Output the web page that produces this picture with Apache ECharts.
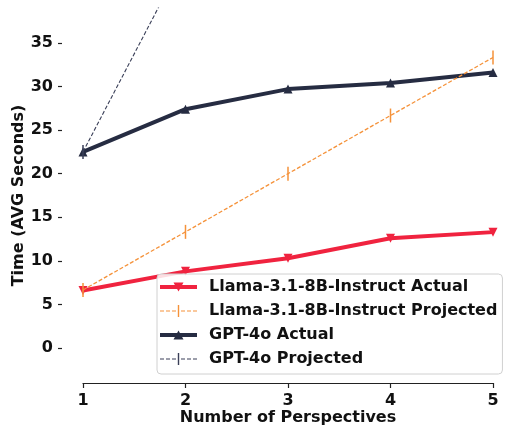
<!DOCTYPE html>
<html>
<head>
<meta charset="utf-8">
<script src="https://cdn.jsdelivr.net/npm/echarts@6/dist/echarts.min.js"></script>
<style>
  html, body { margin: 0; padding: 0; background: #fff; }
  #chart { width: 506px; height: 428px; }
</style>
</head>
<body>
<div id="chart"></div>
<script>
const perspectives = [1, 2, 3, 4, 5]
const llamaActual = [6.6, 8.8, 10.3, 12.6, 13.3]
const llamaProjected = [6.67, 13.33, 20.0, 26.67, 33.33]
const gptActual = [22.5, 27.4, 29.7, 30.4, 31.6]
const gptProjected = [22.5, 45.0, 67.5, 90.0, 112.5]
const yTicks = [0, 5, 10, 15, 20, 25, 30, 35]
const names = [
  'Llama-3.1-8B-Instruct Actual',
  'Llama-3.1-8B-Instruct Projected',
  'GPT-4o Actual',
  'GPT-4o Projected',
]

const pairs = (ys) => perspectives.map((x, i) => [x, ys[i]])
const font = 'DejaVu Sans'

// legend glyphs, 44x16 box (tiny corner dots keep the box size fixed)
const corners = ' M43.9,0 L44,0 L44,0.1 Z M43.9,15.9 L44,15.9 L44,16 Z M0,0 L0.1,0 L0.1,0.1 Z'
const thickLine = 'M0,6 L37,6 L37,10 L0,10 Z'
const iconDown = 'path://' + thickLine + ' M13.5,3.5 L23.5,3.5 L18.5,12.5 Z' + corners
const iconUp = 'path://' + thickLine + ' M18.5,3.5 L23.5,12.5 L13.5,12.5 Z' + corners
const dash = (a, b) => `M${a},7.4 L${b},7.4 L${b},8.6 L${a},8.6 Z `
const iconDashed = 'path://' + dash(0, 4) + dash(6, 10) + dash(12, 16) +
  'M17.8,2 L19.2,2 L19.2,14 L17.8,14 Z ' + dash(21, 25) + dash(27, 31) + dash(33, 37) + corners

const chart = echarts.init(document.getElementById('chart'))
chart.setOption({
  animation: false,
  textStyle: { fontFamily: font },
  grid: { left: 83, right: 13, top: 8, bottom: 45, outerBoundsMode: 'none' },
  xAxis: {
    type: 'value',
    min: 1,
    max: 5,
    interval: 1,
    name: 'Number of Perspectives',
    nameLocation: 'middle',
    nameGap: 27,
    nameMoveOverlap: false,
    nameTextStyle: { fontSize: 16, fontWeight: 'bold', color: '#111' },
    splitLine: { show: false },
    axisLine: { show: true, onZero: false, lineStyle: { color: '#222', width: 1.2 } },
    axisTick: { show: true, length: 5, lineStyle: { color: '#222', width: 1.2 } },
    axisLabel: { fontSize: 16, fontWeight: 'bold', color: '#111', margin: 10 },
  },
  yAxis: {
    type: 'value',
    min: -4,
    max: 39,
    offset: 21,
    name: 'Time (AVG Seconds)',
    nameLocation: 'middle',
    nameGap: 35,
    nameMoveOverlap: false,
    nameTextStyle: { fontSize: 16, fontWeight: 'bold', color: '#111' },
    splitLine: { show: false },
    axisLine: { show: false },
    axisTick: { show: true, length: 4, customValues: yTicks, lineStyle: { color: '#222', width: 1.2 } },
    axisLabel: { fontSize: 16, fontWeight: 'bold', color: '#111', margin: 9, customValues: yTicks },
  },
  legend: {
    orient: 'vertical',
    left: 157,
    top: 274,
    data: [
      { name: names[0], icon: iconDown },
      { name: names[1], icon: iconDashed },
      { name: names[2], icon: iconUp },
      { name: names[3], icon: iconDashed },
    ],
    itemWidth: 44,
    itemHeight: 16,
    itemGap: 8,
    padding: [5, 5, 7, 3],
    backgroundColor: 'rgba(255,255,255,0.85)',
    borderColor: '#d0d0d0',
    borderWidth: 1,
    borderRadius: 4,
    textStyle: { fontSize: 16, fontWeight: 'bold', color: '#111', fontFamily: font },
  },
  series: [
    {
      name: names[0],
      type: 'line',
      data: pairs(llamaActual),
      color: '#f0233f',
      lineStyle: { width: 4 },
      symbol: 'triangle',
      symbolRotate: 180,
      symbolSize: 9,
      z: 2,
    },
    {
      name: names[2],
      type: 'line',
      data: pairs(gptActual),
      color: '#262c42',
      lineStyle: { width: 4 },
      symbol: 'triangle',
      symbolSize: 9,
      z: 2,
    },
    {
      name: names[1],
      type: 'line',
      data: pairs(llamaProjected),
      color: '#f5923a',
      lineStyle: { width: 1.3, type: [4, 2] },
      symbol: 'rect',
      symbolSize: [1.5, 14],
      z: 3,
    },
    {
      name: names[3],
      type: 'line',
      data: pairs(gptProjected),
      color: '#3a3f58',
      lineStyle: { width: 1.1, type: [4, 2] },
      symbol: 'rect',
      symbolSize: [1.5, 14],
      z: 3,
    },
  ],
})
</script>
</body>
</html>
